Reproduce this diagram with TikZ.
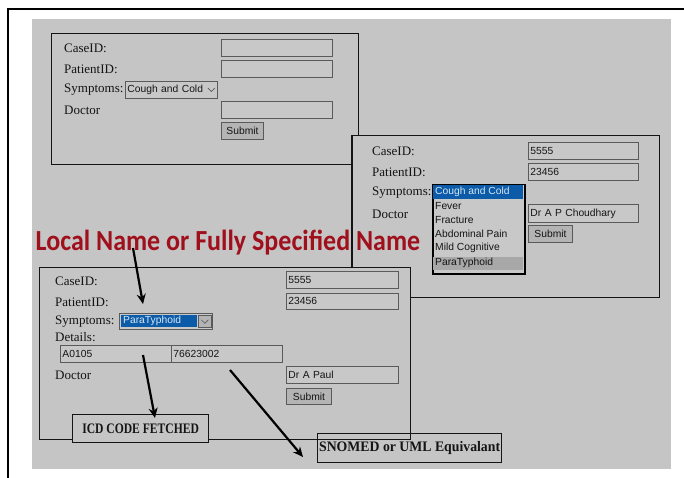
\documentclass[tikz,border=0pt]{standalone}
\usepackage{fontspec}
\setmainfont{Liberation Serif}
\newfontfamily\arialf{Liberation Sans}
\newfontfamily\calib{Carlito}
\usetikzlibrary{arrows.meta}
\definecolor{bggray}{HTML}{C5C5C5}
\definecolor{fieldfill}{HTML}{C8C8C8}
\definecolor{fieldline}{HTML}{5A5A5A}
\definecolor{btnfill}{HTML}{B4B4B4}
\definecolor{selblue}{HTML}{0B5BA8}
\definecolor{seltext}{HTML}{D6E6F6}
\definecolor{hilite}{HTML}{A8A8A8}
\definecolor{titlered}{HTML}{A0101C}
\definecolor{txt}{HTML}{141414}
\tikzset{
  formbox/.style={draw=txt, line width=1.3pt, fill=bggray, anchor=north west, inner sep=0pt},
  lbl/.style={anchor=west, inner sep=0pt, text=txt, font=\fontsize{13}{15}\selectfont},
  field/.style={draw=fieldline, line width=0.9pt, fill=fieldfill, anchor=north west, inner xsep=2pt, inner ysep=0pt, minimum height=17pt, align=left, text=txt, font=\arialf\fontsize{10.3}{12}\selectfont},
  btn/.style={draw=fieldline, line width=0.9pt, fill=btnfill, anchor=north west, inner sep=0pt, minimum height=17pt, text=txt, font=\arialf\fontsize{10.3}{12}\selectfont},
  item/.style={anchor=west, inner sep=0pt, text=txt, font=\arialf\fontsize{10.3}{12}\selectfont},
  chev/.style={draw=fieldline, line width=0.7pt},
  tagbox/.style={draw=txt, line width=1.2pt, anchor=north west, inner sep=0pt, text=txt, font=\bfseries\fontsize{14.5}{16}\selectfont},
  bigarrow/.style={draw=black, line width=2.2pt, -{Stealth[length=10pt,width=9pt]}},
}
\begin{document}
\begin{tikzpicture}[x=1pt,y=-1pt]
\useasboundingbox (0,0) rectangle (684,478);
\fill[white] (0,0) rectangle (684,478);
\fill[bggray] (32,19) rectangle (671,469);
\draw[line width=2pt] (684,9) -- (8,9) -- (8,478);

% ---------- Form 1 ----------
\node[formbox, minimum width=307pt, minimum height=131pt] (form1) at (51,33) {};
\node[lbl] (l1case) at (64,48) {CaseID:};
\node[lbl] (l1pat) at (64,69) {PatientID:};
\node[lbl] (l1sym) at (64,90) {Symptoms:};
\node[lbl] (l1doc) at (64,110) {Doctor};
\node[field, text width=107pt] (f1case) at (221,39) {};
\node[field, text width=107pt] (f1pat) at (221,60) {};
\node[field, text width=88pt] (s1) at (125,81) {Cough and Cold};
\draw[chev] ([xshift=-10pt,yshift=2pt]s1.east) -- ([xshift=-6.5pt,yshift=-1.5pt]s1.east) -- ([xshift=-3pt,yshift=2pt]s1.east);
\node[field, text width=107pt] (f1doc) at (221,101) {};
\node[btn, minimum width=42pt] (b1) at (221,122) {Submit};

% ---------- Form 2 ----------
\node[formbox, minimum width=307pt, minimum height=162pt] (form2) at (352,135) {};
\node[lbl] (l2case) at (372,151) {CaseID:};
\node[lbl] (l2pat) at (372,172) {PatientID:};
\node[lbl] (l2sym) at (372,193) {Symptoms:};
\node[lbl] (l2doc) at (372,214) {Doctor};
\node[field, text width=106pt] (f2case) at (528,142) {5555};
\node[field, text width=106pt] (f2pat) at (528,163) {23456};
\node[field, text width=106pt, minimum height=18pt] (f2doc) at (528,204) {Dr A P Choudhary};
\node[btn, minimum width=44pt] (b2) at (528,225) {Submit};
\node[draw=black, line width=1.5pt, fill=fieldfill, anchor=north west, inner sep=0pt, minimum width=92pt, minimum height=89pt] (list2) at (432,184) {};
\fill[selblue] (433,185) rectangle (523,199);
\fill[hilite] (433,257) rectangle (523,270);
\node[item, text=seltext] (i1) at (435,192) {Cough and Cold};
\node[item] (i2) at (435,206) {Fever};
\node[item] (i3) at (435,220) {Fracture};
\node[item] (i4) at (435,234) {Abdominal Pain};
\node[item] (i5) at (435,248) {Mild Cognitive};
\node[item] (i6) at (435,263) {ParaTyphoid};

% ---------- Title ----------
\node[inner sep=0pt, text=titlered, font=\calib\bfseries\fontsize{26}{28}\selectfont] (title) at (228,243) {\scalebox{1}[1.12]{Local Name or Fully Specified Name}};
\draw[draw=txt, line width=1.3pt] (form2.north west) -- (form2.south west);

% ---------- Form 3 ----------
\node[formbox, minimum width=371pt, minimum height=172pt] (form3) at (39,267) {};
\node[lbl] (l3case) at (55,281) {CaseID:};
\node[lbl] (l3pat) at (55,302) {PatientID:};
\node[lbl] (l3sym) at (55,322) {Symptoms:};
\node[lbl] (l3det) at (55,337) {Details:};
\node[lbl] (l3doc) at (55,375) {Doctor};
\node[field, text width=108pt] (f3case) at (286,271) {5555};
\node[field, text width=108pt, minimum height=16pt] (f3pat) at (286,293) {23456};
\node[field, text width=107pt] (d1) at (60,345) {A0105};
\node[field, text width=107pt] (d2) at (171,345) {76623002};
\node[field, text width=108pt] (f3doc) at (286,366) {Dr A Paul};
\node[btn, minimum width=45pt, minimum height=16pt] (b3) at (286,388) {Submit};
\node[draw=fieldline, line width=1pt, fill=fieldfill, anchor=north west, inner sep=0pt, minimum width=93pt, minimum height=16pt] (s3) at (119,313) {};
\fill[selblue] (121,315) rectangle (197,327);
\node[draw=fieldline, line width=0.6pt, fill=btnfill, anchor=north west, inner sep=0pt, minimum width=13pt, minimum height=12pt] (s3btn) at (198,315) {};
\draw[chev] ([xshift=-3.5pt,yshift=1.5pt]s3btn.center) -- ([yshift=-2pt]s3btn.center) -- ([xshift=3.5pt,yshift=1.5pt]s3btn.center);
\node[item, text=seltext] (s3txt) at (123,321) {ParaTyphoid};

% ---------- Tags ----------
\node[tagbox, fill=bggray, minimum width=136pt, minimum height=28pt] (icd) at (72,414) {\scalebox{0.8}[1]{ICD CODE FETCHED}};
\node[tagbox, minimum width=184pt, minimum height=29pt] (snomed) at (317,433) {\scalebox{0.95}[1]{SNOMED or UML Equivalant}};

% ---------- Arrows ----------
\coordinate (a1s) at (133,248);
\coordinate (a1e) at (143,304);
\coordinate (a2s) at (143,355);
\coordinate (a2e) at (155,418);
\coordinate (a3s) at (230,370);
\coordinate (a3e) at (303,457);
\draw[bigarrow] (a1s) -- (a1e);
\draw[bigarrow] (a2s) -- (a2e);
\draw[bigarrow] (a3s) -- (a3e);
\end{tikzpicture}
\end{document}
